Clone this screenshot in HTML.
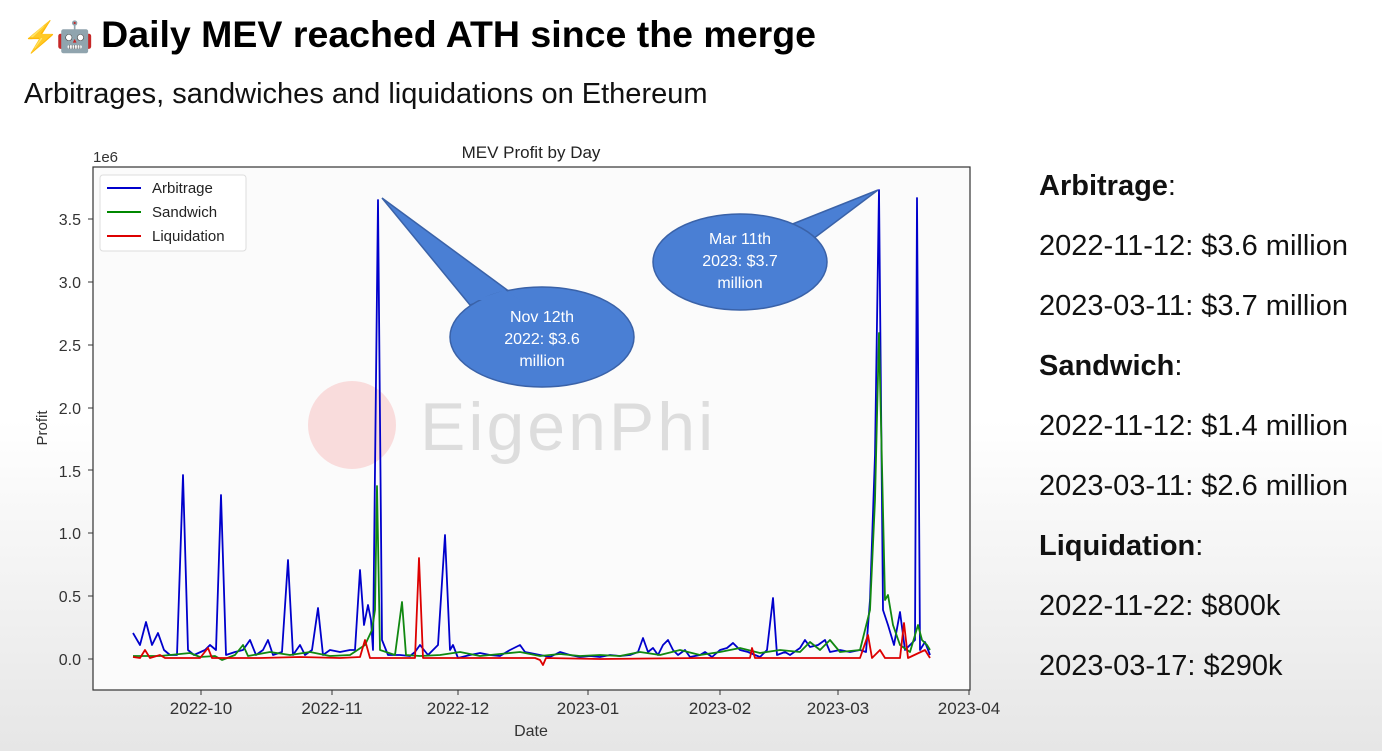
<!DOCTYPE html>
<html><head><meta charset="utf-8"><style>
body{margin:0;width:1382px;height:751px;overflow:hidden;font-family:"Liberation Sans",sans-serif;background:linear-gradient(#fff 0,#fff 420px,#e6e6e6 751px);position:relative}
.t{position:absolute;left:22px;top:13px;font-size:37.5px;font-weight:bold;color:#000;white-space:nowrap}
.e{font-size:30px;letter-spacing:-3px}
.s{position:absolute;left:24px;top:78px;font-size:29px;color:#111;white-space:nowrap}
.r{position:absolute;left:1039px;font-size:29px;color:#111;line-height:32px;white-space:nowrap}
</style></head><body>
<div class="t"><span class="e" style="color:#f5c400">⚡</span><span class="e" style="color:#5aa">🤖</span> Daily MEV reached ATH since the merge</div>
<div class="s">Arbitrages, sandwiches and liquidations on Ethereum</div>
<svg width="1000" height="751" style="position:absolute;left:0;top:0" font-family="Liberation Sans, sans-serif">
<rect x="93" y="167" width="877" height="523" fill="#fbfbfb" stroke="#333" stroke-width="1.2"/>
<text x="531" y="158" font-size="17" text-anchor="middle" fill="#222">MEV Profit by Day</text>
<text x="93" y="162" font-size="15" fill="#333">1e6</text>
<g font-size="16" fill="#333" text-anchor="end">
<text x="81" y="665">0.0</text><text x="81" y="602">0.5</text><text x="81" y="539">1.0</text><text x="81" y="477">1.5</text><text x="81" y="414">2.0</text><text x="81" y="351">2.5</text><text x="81" y="288">3.0</text><text x="81" y="225">3.5</text></g>
<g stroke="#333"><path d="M88 659h5M88 596h5M88 533h5M88 470h5M88 408h5M88 345h5M88 282h5M88 219h5M201 690v5M332 690v5M458 690v5M588 690v5M720 690v5M838 690v5M969 690v5"/></g>
<g font-size="17" fill="#333" text-anchor="middle">
<text x="201" y="714">2022-10</text><text x="332" y="714">2022-11</text><text x="458" y="714">2022-12</text><text x="588" y="714">2023-01</text><text x="720" y="714">2023-02</text><text x="838" y="714">2023-03</text><text x="969" y="714">2023-04</text>
<text x="531" y="736" font-size="16">Date</text></g>
<text x="47" y="428" font-size="15" fill="#333" transform="rotate(-90 47 428)" text-anchor="middle">Profit</text>
<circle cx="352" cy="425" r="44" fill="#f8c8c8" opacity="0.6"/>
<text x="420" y="450" font-size="68" fill="#ddd" letter-spacing="3">EigenPhi</text>
<rect x="100" y="175" width="146" height="76" fill="#fff" stroke="#ddd" rx="3"/>
<path d="M107 188h34" stroke="#00c" stroke-width="2"/><path d="M107 212h34" stroke="#080" stroke-width="2"/><path d="M107 236h34" stroke="#d00" stroke-width="2"/>
<g font-size="15" fill="#222"><text x="152" y="193">Arbitrage</text><text x="152" y="217">Sandwich</text><text x="152" y="241">Liquidation</text></g>
<g fill="none" stroke-width="1.8" stroke-linejoin="round">
<polyline stroke="#0000cc" points="133,633 140,645 146,622 152,645 158,633 164,650 170,655 177,655 183,475 188,650 194,655 205,650 210,645 216,650 221,495 226,655 235,652 243,650 250,640 256,655 263,650 268,640 273,655 282,652 288,560 293,655 300,645 305,655 312,650 318,608 323,655 330,650 340,652 350,650 355,650 360,570 364,625 368,605 371,620 373,650 378,200 382,640 388,655 400,655 410,656 415,652 420,645 424,650 428,655 438,645 445,535 450,650 453,645 458,658 470,655 480,653 490,655 500,656 510,650 520,645 525,652 540,655 550,657 560,652 570,655 580,657 590,656 600,657 610,655 620,656 630,655 638,652 643,638 648,652 653,648 658,655 663,645 668,640 673,650 678,655 685,650 690,657 700,655 705,652 712,657 720,650 727,648 733,643 740,650 748,652 755,655 760,657 767,650 773,598 777,655 785,652 790,655 800,648 805,640 810,647 818,645 825,640 830,652 840,650 850,652 860,650 866,652 870,600 875,455 879,190 883,610 888,625 894,645 900,612 905,650 910,645 915,640 917,198 920,650 925,642 930,655"/>
<polyline stroke="#118811" points="133,656 160,656 190,653 200,657 215,656 222,660 235,655 243,645 248,656 270,652 290,655 310,652 330,656 350,655 365,645 372,630 375,610 377,486 380,650 395,655 402,602 406,655 420,656 440,655 460,652 480,656 500,654 520,652 540,656 560,654 580,656 600,655 620,656 640,652 660,655 680,650 700,655 720,652 740,648 760,653 780,650 800,652 810,642 820,650 830,640 840,652 860,650 870,610 875,500 879,333 885,600 888,595 893,625 900,645 910,652 918,625 922,640 927,645 930,650"/>
<polyline stroke="#dd0000" points="133,657 140,658 145,650 150,658 160,655 165,658 200,658 208,648 212,658 260,658 300,657 340,658 360,657 365,640 370,658 415,658 419,558 423,658 500,658 535,658 540,660 543,665 546,658 600,659 700,658 750,658 752,648 755,658 800,658 860,658 868,635 872,658 880,650 885,658 900,658 904,623 908,658 925,650 930,658"/>
</g>
<g fill="#4a7fd4" stroke="#3a62a8" stroke-width="1.5">
<path d="M382,198 L510,292 L470,305 Z"/>
<ellipse cx="542" cy="337" rx="92" ry="50"/>
<path d="M878,190 L790,225 L805,245 Z"/>
<ellipse cx="740" cy="262" rx="87" ry="48"/>
</g>
<g fill="#4a7fd4"><path d="M475,300 L505,290 L520,300 Z"/><path d="M790,228 L805,242 L780,240 Z"/></g>
<g font-size="16" fill="#fff" text-anchor="middle">
<text x="542" y="322">Nov 12th</text><text x="542" y="344">2022: $3.6</text><text x="542" y="366">million</text>
<text x="740" y="244">Mar 11th</text><text x="740" y="266">2023: $3.7</text><text x="740" y="288">million</text></g>
</svg>
<div class="r" style="top:170px"><b>Arbitrage</b>:</div>
<div class="r" style="top:230px">2022-11-12: $3.6 million</div>
<div class="r" style="top:290px">2023-03-11: $3.7 million</div>
<div class="r" style="top:350px"><b>Sandwich</b>:</div>
<div class="r" style="top:410px">2022-11-12: $1.4 million</div>
<div class="r" style="top:470px">2023-03-11: $2.6 million</div>
<div class="r" style="top:530px"><b>Liquidation</b>:</div>
<div class="r" style="top:590px">2022-11-22: $800k</div>
<div class="r" style="top:650px">2023-03-17: $290k</div>
</body></html>
